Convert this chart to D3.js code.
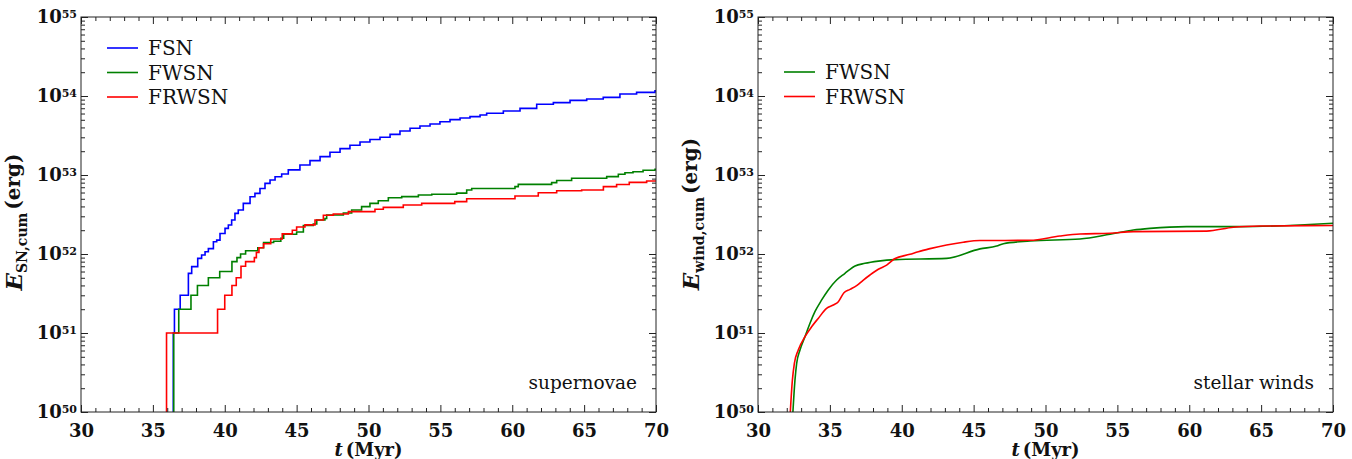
<!DOCTYPE html>
<html><head><meta charset="utf-8">
<script src="https://cdn.jsdelivr.net/npm/d3@7"></script>
<style>body{margin:0;background:#fff}svg{display:block}</style>
</head><body>
<svg id="chart" width="1352" height="459"></svg>
<script>
// ---- data ----
const xTicks = [30, 35, 40, 45, 50, 55, 60, 65, 70];
const yTickExps = [50, 51, 52, 53, 54, 55];

// Left panel: cumulative supernova energy (step curves)
const fsnT = [36.42, 36.5, 36.9, 37.47, 37.7, 38.12, 38.39, 38.63, 38.86, 39.21, 39.44, 39.67, 40.02, 40.25, 40.48, 40.71, 40.94, 41.29, 41.76, 42.1, 42.45, 42.8, 43.15, 43.5, 43.96, 44.42, 45.23, 45.93, 46.63, 47.32, 48.02, 48.71, 49.41, 50.1, 50.8, 51.5, 52.19, 52.89, 53.58, 54.28, 54.97, 55.67, 56.37, 57.06, 57.76, 58.22, 59.38, 60.54, 61.7, 62.86, 64.02, 65.18, 66.33, 67.49, 68.65, 69.93];
const fsnE = [1e51, 2e51, 3e51, 5.69e51, 6.92e51, 8.81e51, 9.7e51, 1.07e52, 1.17e52, 1.43e52, 1.5e52, 1.82e52, 2.11e52, 2.33e52, 2.69e52, 3.27e52, 3.61e52, 4.37e52, 5.31e52, 5.86e52, 6.76e52, 7.83e52, 8.63e52, 9.5e52, 1.03e53, 1.16e53, 1.34e53, 1.52e53, 1.71e53, 1.94e53, 2.16e53, 2.38e53, 2.62e53, 2.81e53, 3.0e53, 3.27e53, 3.61e53, 3.9e53, 4.18e53, 4.43e53, 4.73e53, 5.02e53, 5.27e53, 5.48e53, 5.75e53, 6.04e53, 6.46e53, 6.98e53, 7.85e53, 8.24e53, 8.81e53, 9.16e53, 9.62e53, 1.06e54, 1.11e54, 1.16e54];

const fwsnSnT = [36.45, 36.8, 37.65, 38.1, 38.86, 39.65, 40.5, 40.85, 41.1, 41.45, 42.3, 42.7, 43.4, 43.9, 44.1, 45.0, 45.47, 46.16, 46.4, 46.97, 47.09, 48.25, 48.83, 49.52, 50.1, 50.68, 51.38, 52.31, 53.47, 54.4, 56.13, 56.83, 57.18, 60.19, 60.42, 62.74, 63.09, 64.13, 66.57, 67.38, 67.84, 68.4, 69.1, 69.93];
const fwsnSnE = [1e51, 2e51, 3e51, 4e51, 5e51, 6e51, 8e51, 9e51, 1.0e52, 1.1e52, 1.2e52, 1.4e52, 1.45e52, 1.58e52, 1.78e52, 1.9e52, 2.29e52, 2.4e52, 2.69e52, 2.82e52, 3.12e52, 3.31e52, 3.6e52, 3.98e52, 4.37e52, 4.73e52, 5.16e52, 5.32e52, 5.58e52, 5.7e52, 5.89e52, 6.46e52, 6.76e52, 7.13e52, 7.62e52, 8.0e52, 8.51e52, 9.08e52, 9.53e52, 1.02e53, 1.07e53, 1.1e53, 1.15e53, 1.18e53];

const frwsnSnT = [35.95, 39.5, 40.0, 40.5, 40.8, 41.13, 41.45, 42.06, 42.2, 42.38, 42.7, 43.2, 44.0, 44.7, 45.0, 45.58, 46.28, 46.86, 47.55, 48.6, 50.45, 51.03, 52.42, 53.7, 56.0, 56.83, 60.19, 61.81, 63.09, 64.83, 66.34, 67.26, 68.14, 69.35];
const frwsnSnE = [1e51, 2e51, 3e51, 4e51, 5e51, 7e51, 8e51, 9e51, 1.05e52, 1.2e52, 1.35e52, 1.55e52, 1.8e52, 2.0e52, 2.2e52, 2.34e52, 2.69e52, 3.09e52, 3.21e52, 3.44e52, 3.68e52, 3.89e52, 4.17e52, 4.37e52, 4.6e52, 5.0e52, 5.43e52, 5.97e52, 6.31e52, 6.46e52, 7.13e52, 7.59e52, 8.07e52, 8.39e52];

// Right panel: cumulative stellar wind energy (smooth curves)
const fwsnWT = [32.38, 32.57, 32.69, 32.92, 33.27, 33.61, 33.96, 34.43, 34.89, 35.47, 36.05, 36.4, 36.75, 37.44, 38.37, 39.53, 43.12, 45.44, 46.6, 47.07, 48.92, 52.4, 54.49, 56.11, 57.27, 59.82, 63.53, 67.7, 70.0];
const fwsnWE = [7e49, 2.51e50, 4.13e50, 6.1e50, 9.0e50, 1.32e51, 1.86e51, 2.62e51, 3.51e51, 4.68e51, 5.69e51, 6.4e51, 7.05e51, 7.62e51, 8.13e51, 8.5e51, 8.8e51, 1.16e52, 1.26e52, 1.35e52, 1.46e52, 1.55e52, 1.78e52, 2.01e52, 2.11e52, 2.22e52, 2.22e52, 2.33e52, 2.45e52];

const frwsnWT = [32.2, 32.39, 32.53, 32.8, 33.27, 33.73, 34.19, 34.77, 35.24, 35.59, 35.98, 36.4, 36.86, 37.33, 37.79, 38.37, 38.95, 39.5, 40.57, 41.15, 41.97, 43.12, 44.28, 45.44, 48.92, 51.0, 52.4, 54.49, 56.11, 61.21, 63.07, 64.92, 70.0];
const frwsnWE = [7e49, 2.51e50, 4.13e50, 6.1e50, 9.0e50, 1.2e51, 1.53e51, 2.05e51, 2.26e51, 2.49e51, 3.24e51, 3.57e51, 3.98e51, 4.68e51, 5.42e51, 6.4e51, 7.24e51, 8.7e51, 9.9e51, 1.07e52, 1.17e52, 1.3e52, 1.41e52, 1.48e52, 1.49e52, 1.69e52, 1.79e52, 1.83e52, 1.92e52, 1.95e52, 2.18e52, 2.26e52, 2.29e52];

const leftLegend = ["FSN", "FWSN", "FRWSN"];
const rightLegend = ["FWSN", "FRWSN"];
const colors = {FSN: "#0000ff", FWSN: "#008000", FRWSN: "#ff0000"};

// ---- drawing ----
const svg = d3.select("#chart");
const TOP = 17, BOTTOM = 412;
const serif = "'DejaVu Serif', serif";

function zip(ts, es) { return ts.map((t, i) => ({t: t, e: es[i]})); }

function drawPanel(cfg) {
  const x = d3.scaleLinear().domain([30, 70]).range([cfg.left, cfg.right]);
  const y = d3.scaleLog().domain([1e50, 1e55]).range([BOTTOM, TOP]);
  const g = svg.append("g");

  const clipId = "clip" + cfg.id;
  svg.append("clipPath").attr("id", clipId).append("rect")
    .attr("x", cfg.left).attr("y", TOP)
    .attr("width", cfg.right - cfg.left).attr("height", BOTTOM - TOP);

  const lines = g.append("g").attr("clip-path", `url(#${clipId})`);
  cfg.series.forEach(s => {
    let data = zip(s.t, s.e);
    if (cfg.step) data = [{t: s.t[0], e: 1e49}].concat(data).concat([{t: 70.5, e: s.e[s.e.length - 1]}]);
    const line = d3.line().x(d => x(d.t)).y(d => y(d.e))
      .curve(cfg.step ? d3.curveStepAfter : d3.curveMonotoneX);
    lines.append("path").datum(data).attr("d", line)
      .attr("fill", "none").attr("stroke", colors[s.name])
      .attr("stroke-width", 1.6).attr("stroke-linejoin", "miter");
  });

  const minorX = d3.range(30, 71).filter(v => v % 5 !== 0);
  const minorY = [];
  for (let k = 50; k < 55; k++) for (let m = 2; m <= 9; m++) minorY.push(m * Math.pow(10, k));
  const majorY = yTickExps.map(k => Math.pow(10, k));

  function styleAxis(sel) {
    sel.select(".domain").remove();
    sel.selectAll(".tick line").attr("stroke", "#222").attr("stroke-width", 1);
  }
  // bottom
  g.append("g").attr("transform", `translate(0,${BOTTOM})`)
    .call(d3.axisBottom(x).tickValues(xTicks).tickSize(-7).tickPadding(12).tickFormat(d3.format("d")))
    .call(styleAxis)
    .call(a => a.selectAll("text").attr("font-family", serif).attr("font-weight", "bold")
      .attr("font-size", "18px").attr("fill", "#111"));
  g.append("g").attr("transform", `translate(0,${BOTTOM})`)
    .call(d3.axisBottom(x).tickValues(minorX).tickSize(-4).tickFormat(""))
    .call(styleAxis);
  // top
  g.append("g").attr("transform", `translate(0,${TOP})`)
    .call(d3.axisTop(x).tickValues(xTicks).tickSize(-7).tickFormat(""))
    .call(styleAxis);
  g.append("g").attr("transform", `translate(0,${TOP})`)
    .call(d3.axisTop(x).tickValues(minorX).tickSize(-4).tickFormat(""))
    .call(styleAxis);
  // left
  g.append("g").attr("transform", `translate(${cfg.left},0)`)
    .call(d3.axisLeft(y).tickValues(majorY).tickSize(-7).tickPadding(4).tickFormat(() => ""))
    .call(styleAxis)
    .call(a => a.selectAll(".tick text").each(function(d) {
      const t = d3.select(this);
      t.attr("font-family", serif).attr("font-weight", "bold").attr("font-size", "18px")
        .attr("fill", "#111").attr("dy", "0.3em");
      t.append("tspan").text("10");
      t.append("tspan").attr("dy", "-0.42em").attr("font-size", "11px")
        .text(Math.round(Math.log10(d)));
    }));
  g.append("g").attr("transform", `translate(${cfg.left},0)`)
    .call(d3.axisLeft(y).tickValues(minorY).tickSize(-4).tickFormat(""))
    .call(styleAxis);
  // right
  g.append("g").attr("transform", `translate(${cfg.right},0)`)
    .call(d3.axisRight(y).tickValues(majorY).tickSize(-7).tickFormat(""))
    .call(styleAxis);
  g.append("g").attr("transform", `translate(${cfg.right},0)`)
    .call(d3.axisRight(y).tickValues(minorY).tickSize(-4).tickFormat(""))
    .call(styleAxis);

  // frame
  g.append("rect").attr("x", cfg.left).attr("y", TOP)
    .attr("width", cfg.right - cfg.left).attr("height", BOTTOM - TOP)
    .attr("fill", "none").attr("stroke", "#222").attr("stroke-width", 1);

  // legend
  const lg = g.append("g");
  cfg.legend.forEach((name, i) => {
    const ly = cfg.legendY + i * 24.5;
    lg.append("line").attr("x1", cfg.left + 26).attr("x2", cfg.left + 57)
      .attr("y1", ly).attr("y2", ly).attr("stroke", colors[name]).attr("stroke-width", 1.6);
    lg.append("text").attr("x", cfg.left + 67).attr("y", ly + 7)
      .attr("font-family", serif).attr("font-size", "20px").attr("fill", "#111").text(name);
  });

  // annotation
  g.append("text").attr("x", cfg.right - 19).attr("y", 389).attr("text-anchor", "end")
    .attr("font-family", serif).attr("font-size", "18.5px").attr("fill", "#111").text(cfg.note);

  // x label
  const xl = g.append("text").attr("x", (cfg.left + cfg.right) / 2).attr("y", 456)
    .attr("text-anchor", "middle").attr("font-family", serif).attr("font-weight", "bold")
    .attr("font-size", "18px").attr("fill", "#111");
  xl.append("tspan").attr("font-style", "italic").text("t");
  xl.append("tspan").attr("dx", "3").text("(Myr)");

  // y label
  const yl = g.append("text")
    .attr("transform", `translate(${cfg.left - 59},${cfg.ylabelY}) rotate(-90)`)
    .attr("text-anchor", "middle").attr("font-family", serif).attr("font-weight", "bold")
    .attr("font-size", "20px").attr("fill", "#111");
  yl.append("tspan").attr("font-style", "italic").attr("font-size", "23px").text("E");
  yl.append("tspan").attr("font-size", "14px").attr("dy", "0.35em").text(cfg.sub);
  yl.append("tspan").attr("dy", "-0.35em").attr("dx", "3").text("(erg)");
}

drawPanel({
  id: "L", left: 81, right: 656, step: true,
  series: [
    {name: "FSN", t: fsnT, e: fsnE},
    {name: "FWSN", t: fwsnSnT, e: fwsnSnE},
    {name: "FRWSN", t: frwsnSnT, e: frwsnSnE}
  ],
  legend: leftLegend, legendY: 48, note: "supernovae", sub: "SN,cum", ylabelY: 222
});
drawPanel({
  id: "R", left: 758, right: 1333, step: false,
  series: [
    {name: "FWSN", t: fwsnWT, e: fwsnWE},
    {name: "FRWSN", t: frwsnWT, e: frwsnWE}
  ],
  legend: rightLegend, legendY: 72, note: "stellar winds", sub: "wind,cum", ylabelY: 214
});
</script>
</body></html>
